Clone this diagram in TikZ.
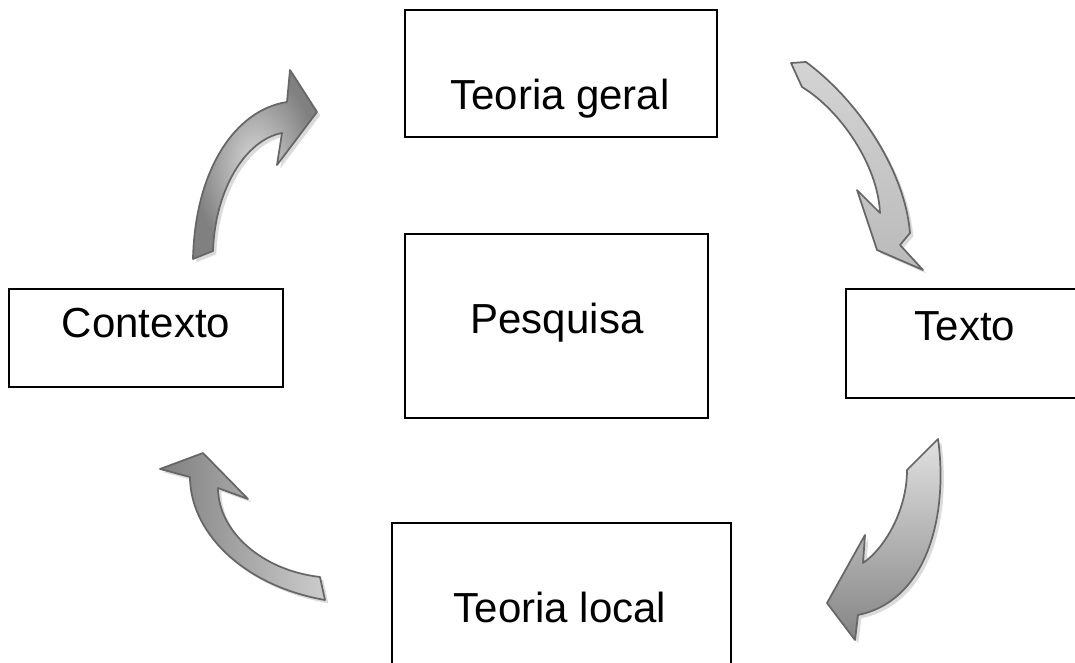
\documentclass[tikz,border=0pt]{standalone}
\usepackage{fontspec}
\setmainfont{Liberation Sans}
\usepackage{tikz}
\usetikzlibrary{calc}
\usetikzlibrary{shadows}
\tikzstyle{conceptbox} = [draw=black, line width=1.5pt, rectangle, inner sep=0pt, outer sep=0pt]
\tikzstyle{conceptlabel} = [font=\fontsize{31.5}{38}\selectfont, inner sep=0pt, anchor=base]
\tikzstyle{cyclearrow} = [draw=black!60, line width=1.3pt, line join=round,
drop shadow={shadow xshift=2.5pt, shadow yshift=-2.5pt, fill=black!20, opacity=.7}]

\begin{document}
\begin{tikzpicture}[x=0.75pt, y=0.75pt]
        \useasboundingbox (0,0) rectangle (1075,662);
        \clip (0,0) rectangle (1075,662);
        % boxes
        \node [conceptbox, minimum width=234pt, minimum height=95.25pt] (geral) at (561,588.5) {};
        \node [conceptbox, minimum width=227.25pt, minimum height=138pt] (pesquisa) at (556.5,336) {};
        \node [conceptbox, minimum width=205.5pt, minimum height=73.5pt] (contexto) at (146,324) {};
        \node [conceptbox, minimum width=183pt, minimum height=81.75pt] (texto) at (968,318.5) {};
        \node [conceptbox, minimum width=254.25pt, minimum height=132.75pt] (local) at (561.5,50.5) {};
        \node [conceptlabel] (geralText) at ($(geral.south)+(-1,27)$) {Teoria geral};
        \node [conceptlabel] (pesquisaText) at ($(pesquisa.south)+(0.5,85)$) {Pesquisa};
        \node [conceptlabel] (contextoText) at ($(contexto.south)+(0,50)$) {Contexto};
        \node [conceptlabel] (textoText) at ($(texto.south)+(-3,58)$) {Texto};
        \node [conceptlabel] (localText) at ($(local.north)+(-1.5,-99)$) {Teoria local};
        % arrows
        \path [cyclearrow, shading=radial, inner color=black!15, outer color=black!50]
            (193,403) .. controls (195,492) and (235,552) .. (287,560) -- (290,592) -- (317,550)
            -- (277,497) -- (282,529) .. controls (245,522) and (215,472) .. (213,411) -- cycle;
        \path [cyclearrow, top color=black!17, bottom color=black!27]
            (802,575) -- (791,599) -- (806,600) .. controls (860,560) and (905,490) .. (910,429)
            -- (900,417) -- (923,392) -- (877,412) -- (857,472) -- (880,449)
            .. controls (878,497) and (840,552) .. (802,575) -- cycle;
        \path [cyclearrow, top color=black!12, bottom color=black!48]
            (907,192) -- (938,223) .. controls (948,152) and (930,62) .. (858,47) -- (855,22)
            -- (827,59) -- (865,127) -- (863,99) .. controls (885,114) and (907,152) .. (907,192) -- cycle;
        \path [cyclearrow, left color=black!50, right color=black!20]
            (320,85) -- (325,62) .. controls (240,77) and (190,132) .. (190,185) -- (160,193)
            -- (203,209) -- (248,163) -- (218,174) .. controls (218,132) and (260,92) .. (320,85) -- cycle;
\end{tikzpicture}
\end{document}
